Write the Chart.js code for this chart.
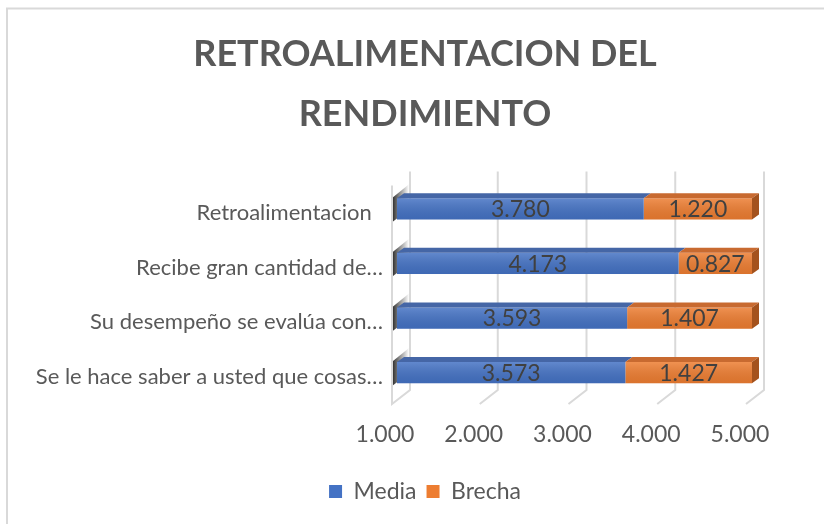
<!DOCTYPE html>
<html lang="es">
<head>
<meta charset="UTF-8">
<title>Retroalimentacion del rendimiento</title>
<script src="https://cdn.jsdelivr.net/npm/chart.js"></script>
<style>
  html, body { margin: 0; padding: 0; background: #fff; overflow: hidden; }
  #wrap { position: relative; width: 824px; height: 524px; }
</style>
</head>
<body>
<div id="wrap"><canvas id="chart" width="824" height="524"></canvas></div>
<script>
// data
const categories = [
  'Retroalimentacion  ',
  'Recibe gran cantidad de\u2026',
  'Su desempe\u00f1o se eval\u00faa con\u2026',
  'Se le hace saber a usted que cosas\u2026'
];
const media = [3.780, 4.173, 3.593, 3.573];
const brecha = [1.220, 0.827, 1.407, 1.427];
const xTicks = [1, 2, 3, 4, 5];

const textGrey = '#595959';
const FONT = 'Lato, Carlito, Calibri, sans-serif';

// border round the chart (only left and top are inside the window)
const frame = {
  id: 'frame',
  beforeDraw(chart) {
    const c = chart.ctx;
    c.save();
    c.strokeStyle = '#d9d9d9';
    c.lineWidth = 2;
    c.beginPath();
    c.moveTo(7, 530); c.lineTo(7, 8.5); c.lineTo(830, 8.5);
    c.stroke();
    c.restore();
  }
};

// perspective grid lines and the side wall
const grid3d = {
  id: 'grid3d',
  beforeDatasetsDraw(chart) {
    const c = chart.ctx, xs = chart.scales.x, area = chart.chartArea;
    const top = area.top - 10, floor = area.bottom - 10, front = area.bottom + 4;
    c.save();
    c.strokeStyle = '#d9d9d9';
    c.lineWidth = 2;
    xTicks.forEach(v => {
      const px = xs.getPixelForValue(v);
      c.beginPath();
      if (v === xTicks[0]) {
        c.moveTo(px + 13, top); c.lineTo(px + 13, floor); c.lineTo(px - 5, front); c.lineTo(px - 5, top + 14);
      } else {
        c.moveTo(px + 12, top); c.lineTo(px + 12, floor); c.lineTo(px - 6, front);
      }
      c.stroke();
    });
    // shadows of the bar ends on the wall
    const px0 = xs.getPixelForValue(xTicks[0]);
    chart.getDatasetMeta(0).data.forEach(bar => {
      const t = bar.y - bar.height / 2, b = bar.y + bar.height / 2;
      const g = c.createLinearGradient(px0 - 4, 0, px0 + 12, 0);
      g.addColorStop(0, 'rgba(30,30,30,0.9)');
      g.addColorStop(0.5, 'rgba(60,60,60,0.5)');
      g.addColorStop(1, 'rgba(60,60,60,0)');
      c.fillStyle = g;
      c.beginPath();
      c.moveTo(px0 - 4, b + 2);
      c.lineTo(px0 - 4, t - 1);
      c.lineTo(px0 + 12, t - 14);
      c.lineTo(px0 + 12, b - 10);
      c.closePath();
      c.fill();
    });
    c.restore();
  }
};

// top and side faces, front shading and value labels
const bars3d = {
  id: 'bars3d',
  afterDatasetsDraw(chart) {
    const c = chart.ctx, area = chart.chartArea;
    const dx = 7, dy = 5;
    const tops = ['#4566a6', '#c86a30'];
    const sides = ['#35528c', '#a4521d'];
    c.save();
    chart.data.datasets.forEach((ds, di) => {
      const meta = chart.getDatasetMeta(di);
      meta.data.forEach((bar, i) => {
        const left = Math.max(Math.min(bar.base, bar.x), area.left);
        const right = Math.max(bar.base, bar.x);
        const t = bar.y - bar.height / 2, b = bar.y + bar.height / 2;
        // front shading
        const g = c.createLinearGradient(0, t, 0, b);
        g.addColorStop(0, 'rgba(255,255,255,0.16)');
        g.addColorStop(1, 'rgba(0,0,0,0.08)');
        c.fillStyle = g;
        c.fillRect(left, t, right - left, b - t);
        // top face
        c.fillStyle = tops[di];
        c.beginPath();
        c.moveTo(left, t); c.lineTo(right, t); c.lineTo(right + dx, t - dy); c.lineTo(left + dx, t - dy);
        c.closePath(); c.fill();
        // side face at the end of the stack
        if (di === chart.data.datasets.length - 1) {
          c.fillStyle = sides[di];
          c.beginPath();
          c.moveTo(right, t); c.lineTo(right + dx, t - dy); c.lineTo(right + dx, b - dy); c.lineTo(right, b);
          c.closePath(); c.fill();
        }
        // value label
        c.fillStyle = '#404040';
        c.font = '23px ' + FONT;
        c.textAlign = 'center';
        c.textBaseline = 'middle';
        c.fillText(ds.data[i].toFixed(3), (left + right) / 2, bar.y + 1);
      });
    });
    c.restore();
  }
};

new Chart(document.getElementById('chart'), {
  type: 'bar',
  data: {
    labels: categories,
    datasets: [
      { label: 'Media', data: media, backgroundColor: '#4472c4' },
      { label: 'Brecha', data: brecha, backgroundColor: '#ed7d31' }
    ]
  },
  options: {
    indexAxis: 'y',
    responsive: false,
    animation: false,
    layout: { padding: { left: 30, right: 4, top: 0, bottom: 11 } },
    datasets: { bar: { categoryPercentage: 1, barPercentage: 0.39 } },
    scales: {
      x: {
        stacked: true,
        min: 1,
        max: 5,
        afterBuildTicks(scale) { scale.ticks = xTicks.map(v => ({ value: v })); },
        afterFit(scale) { scale.height = 70; },
        grid: { display: false, drawTicks: false },
        border: { display: false },
        ticks: {
          callback: v => Number(v).toFixed(3),
          labelOffset: -12,
          padding: 21,
          color: textGrey,
          font: { family: FONT, size: 23 }
        }
      },
      y: {
        stacked: true,
        afterFit(scale) { scale.width = 367; },
        grid: { display: false, drawTicks: false },
        border: { display: false },
        ticks: {
          padding: 14,
          labelOffset: 4,
          color: textGrey,
          font: { family: FONT, size: 22 }
        }
      },
      // empty axis on the right, only keeps space free beside the plot
      yRight: {
        type: 'category',
        position: 'right',
        display: true,
        afterFit(scale) { scale.width = 68; },
        grid: { display: false, drawTicks: false },
        border: { display: false },
        ticks: { display: false }
      }
    },
    plugins: {
      title: {
        display: true,
        text: ['RETROALIMENTACION DEL', 'RENDIMIENTO'],
        color: textGrey,
        font: { family: FONT, size: 36, weight: 'bold', lineHeight: 1.66 },
        padding: { top: 25, bottom: 37 }
      },
      legend: {
        position: 'bottom',
        labels: {
          color: textGrey,
          boxWidth: 13,
          boxHeight: 13,
          padding: 10,
          font: { family: FONT, size: 23 }
        }
      },
      tooltip: { enabled: false }
    }
  },
  plugins: [frame, grid3d, bars3d]
});
</script>
</body>
</html>
